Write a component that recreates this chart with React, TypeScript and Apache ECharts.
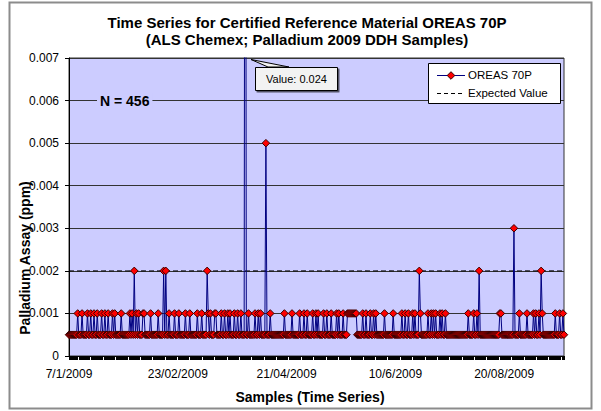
import React, { useEffect, useRef } from 'react';
import * as echarts from 'echarts';

// Palladium assays (ppm) for the 456 OREAS 70P certified reference material samples, in time order
const PD_VALUES = [
  0.0005, 0.0005, 0.0005, 0.0005, 0.0005, 0.0005, 0.0005, 0.0005, 0.001, 0.0005, 0.0005, 0.0005, 0.001, 0.0005, 0.0005, 0.0005, 0.0005, 0.001, 0.0005, 0.0005,
  0.001, 0.0005, 0.0005, 0.001, 0.0005, 0.0005, 0.001, 0.0005, 0.0005, 0.0005, 0.001, 0.0005, 0.0005, 0.001, 0.0005, 0.0005, 0.001, 0.0005, 0.0005, 0.0005,
  0.001, 0.0005, 0.001, 0.0005, 0.0005, 0.0005, 0.0005, 0.0005, 0.001, 0.0005, 0.0005, 0.0005, 0.0005, 0.0005, 0.0005, 0.0005, 0.001, 0.0005, 0.001, 0.0005,
  0.002, 0.0005, 0.001, 0.0005, 0.001, 0.0005, 0.0005, 0.0005, 0.001, 0.001, 0.0005, 0.0005, 0.0005, 0.0005, 0.0005, 0.001, 0.0005, 0.0005, 0.0005, 0.0005,
  0.0005, 0.0005, 0.001, 0.0005, 0.0005, 0.0005, 0.0005, 0.002, 0.0005, 0.002, 0.0005, 0.0005, 0.001, 0.0005, 0.0005, 0.0005, 0.0005, 0.001, 0.0005, 0.0005,
  0.0005, 0.001, 0.0005, 0.0005, 0.0005, 0.0005, 0.0005, 0.001, 0.0005, 0.0005, 0.0005, 0.001, 0.0005, 0.0005, 0.0005, 0.0005, 0.0005, 0.0005, 0.001, 0.0005,
  0.0005, 0.0005, 0.001, 0.0005, 0.0005, 0.0005, 0.0005, 0.002, 0.001, 0.0005, 0.001, 0.0005, 0.0005, 0.0005, 0.001, 0.001, 0.0005, 0.0005, 0.0005, 0.0005,
  0.001, 0.0005, 0.0005, 0.001, 0.0005, 0.0005, 0.001, 0.0005, 0.001, 0.0005, 0.0005, 0.0005, 0.001, 0.0005, 0.0005, 0.001, 0.0005, 0.0005, 0.001, 0.0005,
  0.0005, 0.0005, 0.024, 0.0005, 0.0005, 0.001, 0.0005, 0.0005, 0.0005, 0.0005, 0.0005, 0.001, 0.0005, 0.0005, 0.001, 0.0005, 0.001, 0.0005, 0.0005, 0.0005,
  0.0005, 0.005, 0.0005, 0.0005, 0.0005, 0.001, 0.0005, 0.0005, 0.0005, 0.0005, 0.0005, 0.0005, 0.0005, 0.0005, 0.0005, 0.0005, 0.0005, 0.0005, 0.001, 0.0005,
  0.0005, 0.0005, 0.0005, 0.0005, 0.0005, 0.001, 0.0005, 0.0005, 0.0005, 0.0005, 0.0005, 0.0005, 0.001, 0.0005, 0.0005, 0.0005, 0.001, 0.0005, 0.0005, 0.001,
  0.0005, 0.0005, 0.0005, 0.0005, 0.001, 0.0005, 0.0005, 0.001, 0.0005, 0.001, 0.0005, 0.0005, 0.0005, 0.0005, 0.001, 0.0005, 0.0005, 0.001, 0.0005, 0.0005,
  0.0005, 0.001, 0.0005, 0.0005, 0.0005, 0.0005, 0.001, 0.0005, 0.001, 0.0005, 0.0005, 0.0005, 0.001, 0.0005, 0.0005, 0.0005, 0.001, 0.001, 0.001, 0.001,
  0.001, 0.001, 0.001, 0.001, 0.001, 0.0005, 0.0005, 0.0005, 0.0005, 0.0005, 0.001, 0.0005, 0.0005, 0.001, 0.0005, 0.0005, 0.0005, 0.001, 0.0005, 0.0005,
  0.001, 0.0005, 0.001, 0.0005, 0.0005, 0.0005, 0.0005, 0.0005, 0.0005, 0.0005, 0.001, 0.0005, 0.0005, 0.0005, 0.0005, 0.0005, 0.0005, 0.0005, 0.001, 0.0005,
  0.0005, 0.0005, 0.0005, 0.0005, 0.0005, 0.0005, 0.001, 0.0005, 0.0005, 0.001, 0.0005, 0.0005, 0.001, 0.0005, 0.0005, 0.0005, 0.001, 0.0005, 0.001, 0.0005,
  0.0005, 0.0005, 0.002, 0.001, 0.0005, 0.0005, 0.0005, 0.0005, 0.0005, 0.0005, 0.001, 0.0005, 0.0005, 0.001, 0.0005, 0.001, 0.0005, 0.001, 0.0005, 0.0005,
  0.0005, 0.001, 0.0005, 0.001, 0.0005, 0.0005, 0.001, 0.0005, 0.0005, 0.0005, 0.0005, 0.0005, 0.0005, 0.0005, 0.0005, 0.0005, 0.0005, 0.0005, 0.0005, 0.0005,
  0.0005, 0.0005, 0.0005, 0.0005, 0.0005, 0.0005, 0.0005, 0.001, 0.0005, 0.0005, 0.0005, 0.0005, 0.001, 0.0005, 0.0005, 0.001, 0.0005, 0.002, 0.0005, 0.0005,
  0.0005, 0.0005, 0.0005, 0.0005, 0.0005, 0.0005, 0.0005, 0.0005, 0.0005, 0.0005, 0.0005, 0.0005, 0.0005, 0.0005, 0.0005, 0.0005, 0.001, 0.001, 0.0005, 0.0005,
  0.0005, 0.0005, 0.0005, 0.0005, 0.0005, 0.0005, 0.0005, 0.0005, 0.0005, 0.003, 0.0005, 0.0005, 0.0005, 0.0005, 0.001, 0.0005, 0.0005, 0.0005, 0.0005, 0.0005,
  0.0005, 0.001, 0.0005, 0.0005, 0.0005, 0.0005, 0.0005, 0.001, 0.0005, 0.001, 0.0005, 0.0005, 0.001, 0.0005, 0.002, 0.001, 0.0005, 0.0005, 0.0005, 0.0005,
  0.0005, 0.0005, 0.0005, 0.0005, 0.0005, 0.0005, 0.0005, 0.001, 0.0005, 0.0005, 0.0005, 0.001, 0.0005, 0.0005, 0.001, 0.0005,
];

const EXPECTED_VALUE = 0.002;
const SERIES_NAMES = ['OREAS 70P', 'Expected Value'];
const DATE_LABELS = ['7/1/2009', '23/02/2009', '21/04/2009', '10/6/2009', '20/08/2009'];
const LABEL_STEP = 100;
const Y_MIN = 0;
const Y_MAX = 0.007;
const Y_STEP = 0.001;

const SAMPLE_IDS = PD_VALUES.map((_, i) => String(i + 1));

const FONT = 'Liberation Sans, Arial, sans-serif';
const PLOT_BG = '#ccccff';
const LINE_COLOR = '#000080';
const MARKER_FILL = '#ff0000';
const MARKER_EDGE = '#3a0000';

export default function App() {
  const ref = useRef<HTMLDivElement>(null);

  useEffect(() => {
    if (!ref.current) return;
    const chart = echarts.init(ref.current, null, { renderer: 'svg' });
    const maxValue = Math.max(...PD_VALUES);

    // legend box geometry (drawn by hand so the dashed key has no marker)
    const lgX = 428.5;
    const lgY = 63.5;
    const row1 = 75;
    const row2 = 93;
    const keyX1 = 437;
    const keyX2 = 465;
    const keyMid = (keyX1 + keyX2) / 2;
    const d = 3.8;

    const option: any = {
      animation: false,
      backgroundColor: '#ffffff',
      grid: {
        left: 69,
        top: 58,
        width: 495,
        height: 298,
        show: true,
        backgroundColor: PLOT_BG,
        borderColor: '#333',
        borderWidth: 1,
        containLabel: false,
      },
      legend: { show: false },
      xAxis: {
        type: 'category',
        data: SAMPLE_IDS,
        boundaryGap: false,
        axisLine: { show: true, lineStyle: { color: '#000', width: 1 } },
        axisTick: { show: true, interval: 0, length: 4, lineStyle: { color: '#000', width: 1 } },
        axisLabel: {
          interval: LABEL_STEP - 1,
          formatter: (_v: string, idx: number) => DATE_LABELS[idx / LABEL_STEP] ?? '',
          fontSize: 12,
          color: '#000',
          fontFamily: FONT,
          margin: 12,
        },
        splitLine: { show: false },
      },
      yAxis: {
        type: 'value',
        min: Y_MIN,
        max: Y_MAX,
        interval: Y_STEP,
        axisLine: { show: true, lineStyle: { color: '#000', width: 1 } },
        axisTick: { show: true, length: 4, lineStyle: { color: '#000' } },
        axisLabel: {
          formatter: (v: number) => (v === 0 ? '0' : v.toFixed(3)),
          fontSize: 12,
          color: '#000',
          fontFamily: FONT,
          margin: 10,
        },
        splitLine: { show: true, lineStyle: { color: '#333', width: 1 } },
      },
      series: [
        {
          name: SERIES_NAMES[1],
          type: 'line',
          data: PD_VALUES.map(() => EXPECTED_VALUE),
          symbol: 'none',
          lineStyle: { color: '#000', width: 1, type: [5, 3] },
          itemStyle: { color: '#000' },
          z: 2,
          silent: true,
        },
        {
          name: SERIES_NAMES[0],
          type: 'line',
          data: PD_VALUES,
          symbol: 'diamond',
          symbolSize: 7.5,
          showAllSymbol: true,
          clip: true,
          lineStyle: { color: LINE_COLOR, width: 1 },
          itemStyle: { color: MARKER_FILL, borderColor: MARKER_EDGE, borderWidth: 1 },
          z: 3,
          silent: true,
        },
      ],
      graphic: [
        {
          type: 'rect',
          shape: { x: 9.5, y: 2.5, width: 582, height: 406 },
          style: { fill: 'none', stroke: '#8c8c8c', lineWidth: 2 },
          z: 0,
          silent: true,
        },
        {
          type: 'text',
          x: 307,
          y: 22,
          style: {
            text: 'Time Series for Certified Reference Material OREAS 70P',
            font: `bold 15px ${FONT}`,
            fill: '#000',
            textAlign: 'center',
            textVerticalAlign: 'middle',
          },
        },
        {
          type: 'text',
          x: 307,
          y: 39,
          style: {
            text: '(ALS Chemex; Palladium 2009 DDH Samples)',
            font: `bold 15px ${FONT}`,
            fill: '#000',
            textAlign: 'center',
            textVerticalAlign: 'middle',
          },
        },
        {
          type: 'text',
          x: 310,
          y: 397,
          style: {
            text: 'Samples (Time Series)',
            font: `bold 14px ${FONT}`,
            fill: '#000',
            textAlign: 'center',
            textVerticalAlign: 'middle',
          },
        },
        {
          type: 'text',
          x: 25,
          y: 258,
          rotation: Math.PI / 2,
          style: {
            text: 'Palladium Assay (ppm)',
            font: `bold 14px ${FONT}`,
            fill: '#000',
            textAlign: 'center',
            textVerticalAlign: 'middle',
          },
          z: 10,
        },
        {
          type: 'text',
          x: 97,
          y: 101,
          style: {
            text: `N = ${PD_VALUES.length}`,
            font: `bold 14px ${FONT}`,
            fill: '#000',
            textVerticalAlign: 'middle',
            backgroundColor: PLOT_BG,
            padding: [1, 3, 1, 3],
          },
          z: 10,
        },
        // legend
        {
          type: 'rect',
          shape: { x: lgX, y: lgY, width: 132, height: 40 },
          style: { fill: '#ffffff', stroke: '#000', lineWidth: 1 },
          z: 20,
        },
        {
          type: 'line',
          shape: { x1: keyX1, y1: row1 + 0.5, x2: keyX2, y2: row1 + 0.5 },
          style: { stroke: LINE_COLOR, lineWidth: 1 },
          z: 21,
        },
        {
          type: 'polygon',
          shape: { points: [[keyMid, row1 + 0.5 - d], [keyMid + d, row1 + 0.5], [keyMid, row1 + 0.5 + d], [keyMid - d, row1 + 0.5]] },
          style: { fill: MARKER_FILL, stroke: MARKER_EDGE, lineWidth: 1 },
          z: 22,
        },
        {
          type: 'text',
          x: 468,
          y: row1,
          style: {
            text: SERIES_NAMES[0],
            font: `11.5px ${FONT}`,
            fill: '#000',
            textVerticalAlign: 'middle',
          },
          z: 22,
        },
        {
          type: 'line',
          shape: { x1: keyX1, y1: row2 + 0.5, x2: keyX2, y2: row2 + 0.5 },
          style: { stroke: '#000', lineWidth: 1, lineDash: [4, 3] },
          z: 21,
        },
        {
          type: 'text',
          x: 468,
          y: row2,
          style: {
            text: SERIES_NAMES[1],
            font: `11.5px ${FONT}`,
            fill: '#000',
            textVerticalAlign: 'middle',
          },
          z: 22,
        },
        // value callout for the off-scale point
        {
          type: 'polygon',
          shape: { points: [[251, 59.5], [289, 67], [268, 67]] },
          style: { fill: '#f2f2f2', stroke: '#000', lineWidth: 1 },
          z: 10,
        },
        {
          type: 'rect',
          shape: { x: 255.5, y: 67.5, width: 82, height: 23 },
          style: {
            fill: '#f2f2f2',
            stroke: '#000',
            lineWidth: 1,
            shadowColor: 'rgba(0,0,0,0.6)',
            shadowOffsetX: 1.5,
            shadowOffsetY: 1.5,
            shadowBlur: 0,
          },
          z: 11,
        },
        {
          type: 'text',
          x: 296.5,
          y: 79,
          style: {
            text: `Value: ${maxValue}`,
            font: `11px ${FONT}`,
            fill: '#000',
            textAlign: 'center',
            textVerticalAlign: 'middle',
          },
          z: 12,
        },
      ],
    };

    chart.setOption(option);
    return () => chart.dispose();
  }, []);

  return (
    <div
      ref={ref}
      style={{ position: 'fixed', left: 0, top: 0, width: 601, height: 411, background: '#fff' }}
    />
  );
}
